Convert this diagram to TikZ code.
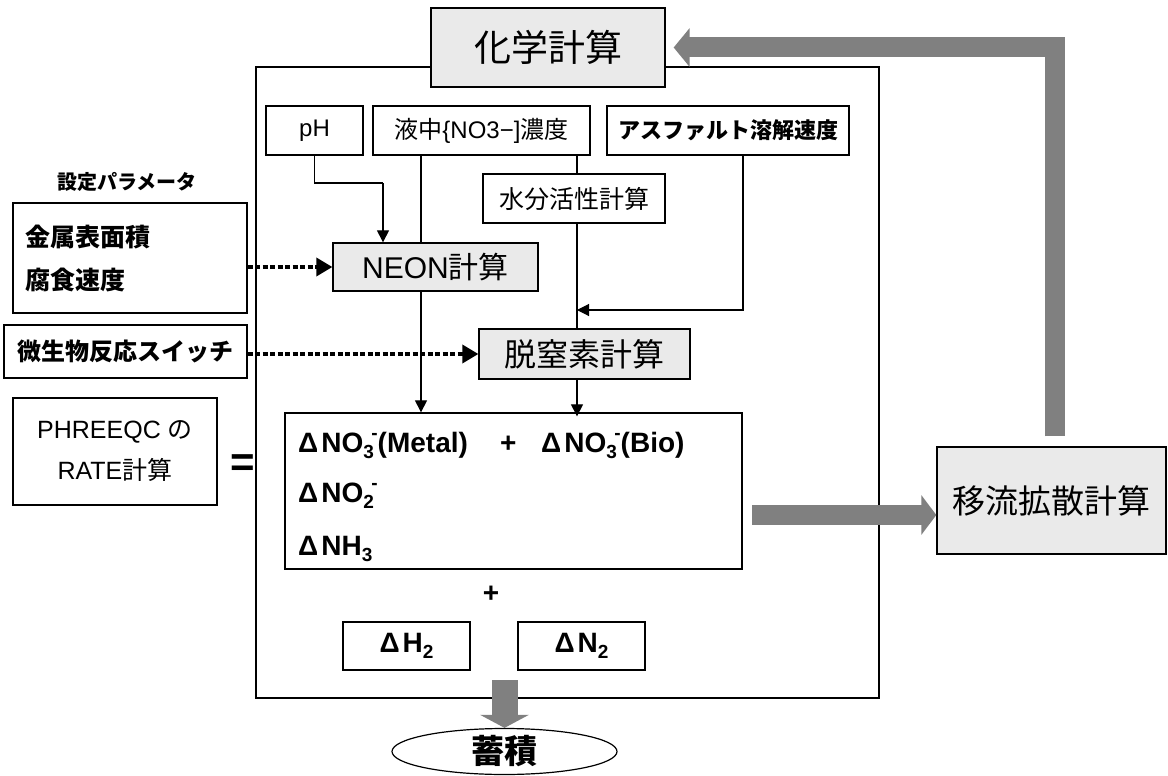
\documentclass[tikz,border=0pt]{standalone}
\usepackage{fontspec}
\setmainfont{Liberation Sans}
\newfontfamily\jp{Noto Sans CJK JP}
\usetikzlibrary{arrows.meta,shapes.geometric}
\definecolor{boxgray}{RGB}{234,234,234}
\definecolor{arrgray}{RGB}{128,128,128}
\newcommand\fs[2]{\fontsize{#1}{#2}\selectfont}
\newcommand\sbs[1]{\raisebox{-6pt}{\fs{19}{19}#1}}
\newcommand\sps[1]{\raisebox{13pt}{\fs{19}{19}#1}}
\begin{document}
\begin{tikzpicture}[x=1pt,y=-1pt,
  box/.style={draw, line width=1.3pt, inner sep=0pt, fill=white},
  gbox/.style={box, fill=boxgray},
  ln/.style={line width=1.1pt},
  arr/.style={line width=1.1pt, -{Triangle[length=12pt,width=12pt]}},
  dotarr/.style={line width=3.5pt, dash pattern=on 5pt off 2.5pt, -{Triangle[length=16pt,width=18pt]}},
  garr/.style={line width=20pt, draw=arrgray, line join=miter, -{Triangle[length=16pt,width=38pt]}},
  dtxt/.style={anchor=base west, inner sep=0pt, font=\bfseries\fs{28}{32}}
]
\useasboundingbox (0,0) rectangle (1168,776);

% main calculation frame
\node[draw, line width=1.3pt, minimum width=623pt, minimum height=631pt, inner sep=0pt] (mainb) at (567.5,382.5) {};

% top nodes
\node[gbox, minimum width=234pt, minimum height=79pt, font=\jp\fs{37}{40}] (chem) at (548,47.5) {化学計算};
\node[box, minimum width=97pt, minimum height=49pt, font=\fs{24}{26}] (ph) at (314.5,130.5) {pH};
\node[box, minimum width=217pt, minimum height=49pt, font=\fs{24}{26}] (liq) at (481.5,130.5) {{\jp 液中}\{NO3−]{\jp 濃度}};
\node[box, minimum width=242pt, minimum height=49pt, font=\jp\bfseries\fs{22}{26}] (asph) at (728,130.5) {アスファルト溶解速度};
\node[box, minimum width=182pt, minimum height=49pt, font=\jp\fs{25}{28}] (water) at (574,198.5) {水分活性計算};
\node[gbox, minimum width=205pt, minimum height=48pt, font=\fs{30}{32}] (neon) at (435.5,267) {NEON{\jp 計算}};
\node[gbox, minimum width=211pt, minimum height=50pt, font=\jp\fs{32}{34}] (denit) at (584.5,354) {脱窒素計算};

% left parameters
\node[inner sep=0pt, font=\jp\bfseries\fs{20}{24}] (param) at (127,182) {設定パラメータ};
\node[box, minimum width=234pt, minimum height=110pt, text width=210pt, align=left, font=\jp\bfseries\fs{25}{43}] (metal) at (130,258) {金属表面積\\腐食速度};
\node[box, minimum width=243pt, minimum height=53pt, font=\jp\bfseries\fs{24}{28}] (micro) at (125.5,351.5) {微生物反応スイッチ};
\node[box, minimum width=204pt, minimum height=107pt, align=center, font=\fs{25}{41}] (phq) at (115,451.5) {PHREEQC {\jp の}\\RATE{\jp 計算}};
\node[inner sep=0pt, font=\bfseries\fs{42}{44}] (eq) at (243,466) {=};

% result box
\node[box, minimum width=457pt, minimum height=156pt] (delta) at (513.5,491) {};
\node[dtxt] (d1) at (298,452) {Δ\kern3pt NO\sbs{3}\kern-2.5pt\sps{-}(Metal)};
\node[dtxt] (plus1) at (500,452) {+};
\node[dtxt] (d2) at (541,452) {Δ\kern3pt NO\sbs{3}\kern-2.5pt\sps{-}(Bio)};
\node[dtxt] (d3) at (298,502) {Δ\kern3pt NO\sbs{2}\kern-2.5pt\sps{-}};
\node[dtxt] (d4) at (298,555) {Δ\kern3pt NH\sbs{3}};
\node[inner sep=0pt, font=\bfseries\fs{28}{30}] (plus2) at (491,594) {+};
\node[box, minimum width=127pt, minimum height=48pt, font=\bfseries\fs{28}{30}] (h2) at (406.5,646) {Δ\kern3pt H\sbs{2}};
\node[box, minimum width=127pt, minimum height=48pt, font=\bfseries\fs{28}{30}] (n2) at (581.5,646) {Δ\kern3pt N\sbs{2}};

% right and bottom
\node[gbox, minimum width=229pt, minimum height=107pt, font=\jp\fs{33}{36}] (adv) at (1051.5,500.5) {移流拡散計算};
\node[draw, ellipse, line width=1.2pt, minimum width=225pt, minimum height=46pt, inner sep=0pt, font=\jp\bfseries\fs{33}{36}] (acc) at (504.5,751.5) {蓄積};

% thin connectors
\coordinate (xl) at (421,0);
\coordinate (xw) at (577,0);
\coordinate (xa) at (743,0);
\coordinate (phk) at (383,183);
\coordinate (jn) at (577,310);
\draw[ln] (ph.south) |- (phk);
\draw[arr] (phk) -- (phk |- neon.north);
\draw[ln] (liq.south -| xl) -- (neon.north -| xl);
\draw[arr] (neon.south -| xl) -- (delta.north -| xl);
\draw[ln] (liq.south -| xw) -- (water.north -| xw);
\draw[ln] (water.south -| xw) -- (denit.north -| xw);
\draw[arr] (asph.south -| xa) |- (jn);
\draw[arr] (denit.south -| xw) -- ([yshift=-4pt]delta.north -| xw);

% dotted parameter arrows
\draw[dotarr] (metal.east |- neon.west) -- (neon.west);
\draw[dotarr] (micro.east |- denit.west) -- (denit.west);

% big gray arrows
\coordinate (accsrc) at (504.5,680);
\coordinate (advsrc) at (752,515);
\draw[garr, line width=26pt, -{Triangle[length=13pt,width=48pt]}] (accsrc) -- (acc.north);
\draw[garr, -{Triangle[length=15pt,width=39pt]}] (advsrc) -- (advsrc -| adv.west);
\draw[garr, shorten <=10pt, shorten >=8pt] ([xshift=3.5pt]adv.north) |- (chem.east);
\end{tikzpicture}
\end{document}
